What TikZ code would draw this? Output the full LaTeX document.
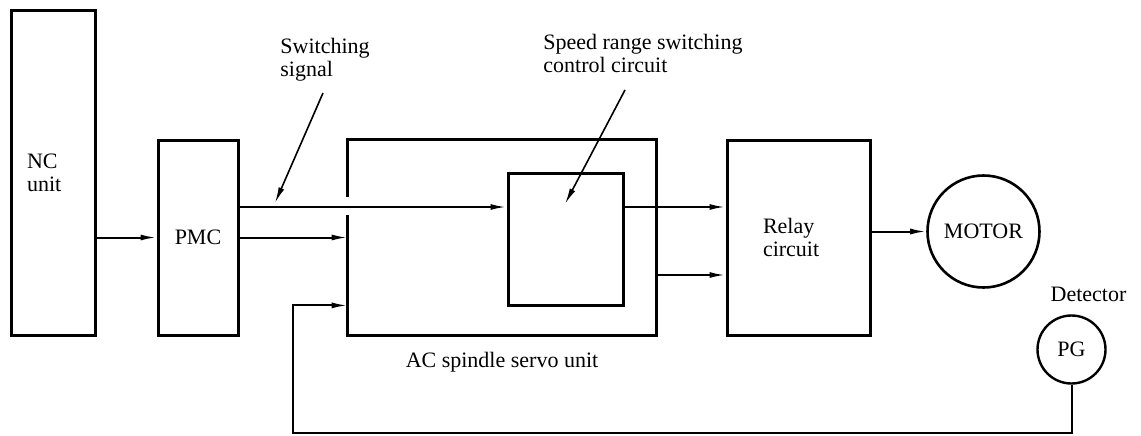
\documentclass[tikz,border=0pt]{standalone}
\usepackage{fontspec}
\setmainfont{Liberation Serif}
\usetikzlibrary{arrows.meta,calc,positioning}

\begin{document}
\begin{tikzpicture}[x=.5pt,y=-.5pt,font=\fontsize{11}{11.5}\selectfont,
  blk/.style={draw,line width=1.5pt,inner sep=0pt},
  conn/.style={line width=1pt,-{Latex[length=8pt,width=3pt]}},
  lead/.style={line width=.8pt,-{Latex[length=8pt,width=3pt]}}]
\useasboundingbox (0,0) rectangle (1141,435);
\node[blk,minimum width=42pt,minimum height=162.5pt,text width=26pt,inner xsep=8pt,align=left] (nc) at (53,172.5) {NC\\unit};
\node[blk,minimum width=40pt,minimum height=97.5pt] (pmc) at (198,237.5) {PMC};
\node[minimum width=154pt,minimum height=97.5pt,inner sep=0pt] (ac) at (502,237.5) {};
\draw[line width=1.5pt] ($(ac.north west)+(0,57)$) |- (ac.north east) |- (ac.south west) -- ($(ac.north west)+(0,75)$);
\node[blk,minimum width=57.5pt,minimum height=66pt] (spd) at (565.5,239) {};
\node[blk,minimum width=71.5pt,minimum height=97.5pt,text width=35.5pt,inner xsep=18pt,align=left] (relay) at (798.5,237.5) {Relay\\circuit};
\node[draw,circle,line width=1.3pt,minimum size=56pt,inner sep=0pt] (motor) at (983.5,231.5) {MOTOR};
\node[draw,circle,line width=1.2pt,minimum size=34pt,inner sep=0pt] (pg) at (1071.5,349.5) {PG};
\node[anchor=base,inner sep=0pt] (det) at ([xshift=8.5pt,yshift=6.5pt]pg.north) {Detector};
\node[below=8pt of ac,inner sep=0pt] (aclab) {AC spindle servo unit};
\node[anchor=north west,align=left,inner sep=0pt] (swlab) at (280,38) {Switching\\signal};
\node[anchor=north west,align=left,inner sep=0pt] (splab) at (543,34) {Speed range switching\\control circuit};
% signal levels and free ends
\coordinate (sw) at (0,207);
\coordinate (lo) at (0,275);
\coordinate (fb) at (293,433);
\coordinate (swtail) at (323,93);
\coordinate (swtip) at (275,203);
\coordinate (sptail) at (625,90);
\coordinate (sptip) at (565,204);
\draw[conn] (nc.east |- pmc.west) -- (pmc.west);
\draw[conn] (pmc.east |- sw) -- (spd.west |- sw);
\draw[conn] (pmc.east) -- (ac.west);
\draw[conn] (spd.east |- sw) -- (relay.west |- sw);
\draw[conn] (ac.east |- lo) -- (relay.west |- lo);
\draw[conn] (relay.east |- motor.west) -- (motor.west);
\draw[conn] (pg.south) |- (fb) |- ([yshift=15pt]ac.south west);
\draw[lead] (swtail) -- (swtip);
\draw[lead] (sptail) -- (sptip);
\end{tikzpicture}
\end{document}
